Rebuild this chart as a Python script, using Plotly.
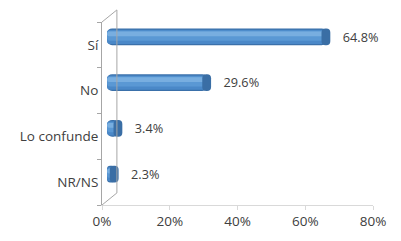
import plotly.graph_objects as go

categories = ["Sí", "No", "Lo confunde", "NR/NS"]
values = [64.8, 29.6, 3.4, 2.3]
x_ticks = [0, 20, 40, 60, 80]
x_tick_labels = ["0%", "20%", "40%", "60%", "80%"]

DEPTH = 1.5  # visual 3D depth shift (in % units)
CAP = 2.6    # length of the darker end cap (in % units)
CAP_OUT = 1.1  # how far the cap sticks out past the body
FONT = dict(family="Open Sans", size=13.5, color="#404040")

fig = go.Figure()

# cylinder body built from overlaid bands (dark -> light)
layers = [
    (0.37, -0.01, "#3A70AA"),
    (0.31, 0.02, "#4A88C8"),
    (0.22, 0.09, "#5A98D4"),
    (0.10, 0.19, "#78AEE0"),
]
for i, (w, off, col) in enumerate(layers):
    fig.add_trace(go.Bar(
        y=categories, x=values, base=DEPTH, orientation="h",
        width=w, offset=off,
        marker=dict(color=col, line=dict(width=0), cornerradius=5 if i == 0 else 3),
        text=["    " + f"{v:.1f}%" for v in values] if i == 0 else None,
        textposition="outside" if i == 0 else "none",
        textfont=FONT, cliponaxis=False,
        hoverinfo="skip", showlegend=False,
    ))

# darker elliptical end cap of each cylinder
fig.add_trace(go.Bar(
    y=categories, x=[CAP] * len(values), base=[v + DEPTH - CAP + CAP_OUT for v in values],
    orientation="h", width=0.37, offset=-0.01,
    marker=dict(color="#3A6EA5", line=dict(width=0), cornerradius="45%"),
    hoverinfo="skip", showlegend=False,
))

fig.update_layout(
    barmode="overlay",
    width=393, height=233,
    margin=dict(l=94, r=28, t=14, b=36, autoexpand=False),
    paper_bgcolor="white", plot_bgcolor="white",
    font=FONT,
    xaxis=dict(
        range=[0, 80], tickvals=x_ticks, ticktext=x_tick_labels,
        showgrid=False, zeroline=False, automargin=False,
        showline=True, linecolor="#D9D9D9", linewidth=1,
        ticks="outside", ticklen=4, tickcolor="#D9D9D9",
        tickfont=FONT,
    ),
    yaxis=dict(
        categoryorder="array", categoryarray=categories[::-1],
        range=[-0.5, 3.5], tickson="boundaries", automargin=False,
        showgrid=False, zeroline=False,
        showline=True, linecolor="#A6A6A6", linewidth=1,
        ticks="outside", ticklen=4, tickcolor="#A6A6A6",
        tickfont=FONT,
    ),
    shapes=[
        # back wall and side connectors of the 3D frame
        dict(type="line", xref="paper", yref="paper", x0=0.055, x1=0.055, y0=0.066, y1=1.066,
             line=dict(color="#A6A6A6", width=1)),
        dict(type="line", xref="paper", yref="paper", x0=0, x1=0.055, y0=1.0, y1=1.066,
             line=dict(color="#A6A6A6", width=1)),
        dict(type="line", xref="paper", yref="paper", x0=0, x1=0.055, y0=0.0, y1=0.066,
             line=dict(color="#A6A6A6", width=1)),
    ],
)

fig.write_html("out.html")
